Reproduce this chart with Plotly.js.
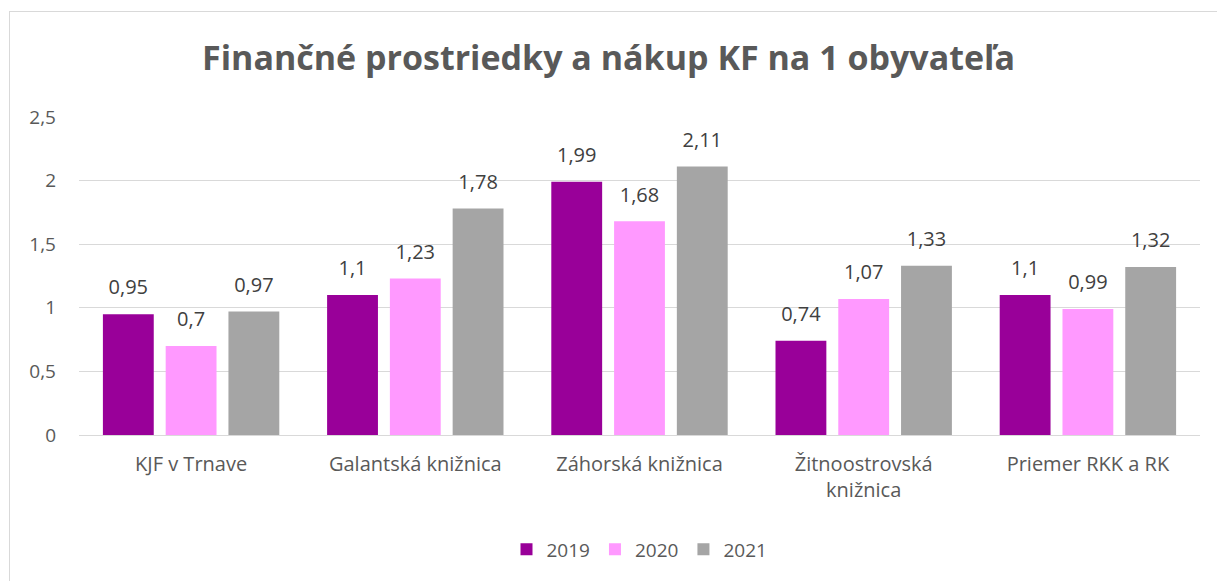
<!DOCTYPE html>
<html>
<head>
<meta charset="utf-8">
<script src="https://cdn.plot.ly/plotly-3.0.1.min.js"></script>
<style>
  body { margin: 0; background: #fff; overflow: hidden; }
  #frame { position: absolute; left: 9px; top: 11px; width: 1230px; height: 600px; border: 1px solid #d9d9d9; }
  #chart { position: absolute; left: 0; top: 0; width: 1217px; height: 581px; }
</style>
</head>
<body>
<div id="frame"></div>
<div id="chart"></div>
<script>
var categories = ["KJF v Trnave", "Galantská knižnica", "Záhorská knižnica", "Žitnoostrovská<br>knižnica", "Priemer RKK a RK"];
var years = ["2019", "2020", "2021"];
var values2019 = [0.95, 1.1, 1.99, 0.74, 1.1];
var values2020 = [0.7, 1.23, 1.68, 1.07, 0.99];
var values2021 = [0.97, 1.78, 2.11, 1.33, 1.32];
var colors = ["#990099", "#ff99ff", "#a5a5a5"];
var yTicks = [0, 0.5, 1, 1.5, 2, 2.5];
var yTickText = ["0", "0,5", "1", "1,5", "2", "2,5"];

function fmt(v) { return String(v).replace(".", ","); }

var series = [values2019, values2020, values2021];
var data = [];

series.forEach(function (vals, i) {
  data.push({
    type: "bar",
    name: years[i],
    x: categories,
    y: vals,
    offsetgroup: years[i],
    marker: { color: colors[i] },
    hoverinfo: "x+y"
  });
});

// value labels, sitting a little higher above the bars than plotly's own outside text
series.forEach(function (vals, i) {
  data.push({
    type: "scatter",
    mode: "markers+text",
    x: categories,
    y: vals,
    offsetgroup: years[i],
    text: vals.map(fmt),
    textposition: "top center",
    textfont: { family: "Open Sans", size: 20, color: "#404040" },
    marker: { size: 22, opacity: 0 },
    cliponaxis: false,
    showlegend: false,
    hoverinfo: "skip"
  });
});

var layout = {
  width: 1217,
  height: 581,
  margin: { l: 79, r: 17, t: 117, b: 146 },
  paper_bgcolor: "rgba(0,0,0,0)",
  plot_bgcolor: "rgba(0,0,0,0)",
  font: { family: "Open Sans", color: "#595959" },
  title: {
    text: "<b>Finančné prostriedky a nákup KF na 1 obyvateľa</b>",
    font: { family: "Open Sans", size: 34, color: "#595959" },
    x: 0.5,
    xanchor: "center",
    y: 0.9,
    yanchor: "middle",
    yref: "container"
  },
  barmode: "group",
  bargap: 0.16,
  bargroupgap: 0.19,
  scattermode: "group",
  scattergap: 0.16,
  xaxis: {
    showline: true,
    linecolor: "#d9d9d9",
    linewidth: 1,
    tickfont: { size: 20, color: "#595959" },
    ticks: "",
    ticklabelstandoff: 11
  },
  yaxis: {
    range: [0, 2.5],
    tickvals: yTicks,
    ticktext: yTickText,
    showgrid: true,
    gridcolor: "#d9d9d9",
    zeroline: false,
    ticks: "",
    ticklabelstandoff: 22,
    tickfont: { size: 19, color: "#595959" }
  },
  showlegend: true,
  legend: {
    orientation: "h",
    x: 0.5,
    xanchor: "center",
    y: -0.36,
    yanchor: "middle",
    font: { size: 19, color: "#595959" },
    itemwidth: 30,
    traceorder: "normal"
  }
};

Plotly.newPlot("chart", data, layout, { displayModeBar: false });
</script>
</body>
</html>
